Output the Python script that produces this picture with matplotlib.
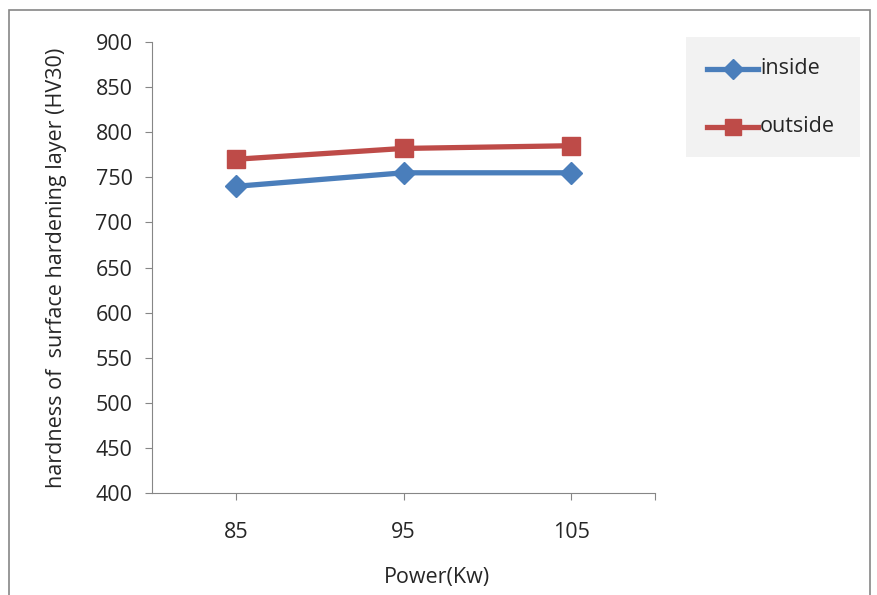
import matplotlib.pyplot as plt
from matplotlib.patches import Rectangle
from matplotlib.lines import Line2D

# Datos
power = [85, 95, 105]
inside = [740, 755, 755]
outside = [770, 782, 785]

azul = '#4a7ebb'
rojo = '#be4b48'

plt.rcParams['font.family'] = ['Open Sans', 'DejaVu Sans']

fig = plt.figure(figsize=(8.77, 5.95), dpi=100)
W, H = 877, 595
ax = fig.add_axes([152 / W, 1 - 493 / H, (655 - 152) / W, (493 - 42) / H])

ax.plot(power, inside, color=azul, lw=3.8, marker='D', ms=11, label='inside')
ax.plot(power, outside, color=rojo, lw=3.8, marker='s', ms=12.5, label='outside')

ax.set_xlim(80, 110)
ax.set_ylim(400, 900)
ax.set_xticks([85, 95, 105, 110])
ax.set_xticklabels(['85', '95', '105', ''])
ax.set_yticks(range(400, 901, 50))

for s in ['top', 'right']:
    ax.spines[s].set_visible(False)
for s in ['left', 'bottom']:
    ax.spines[s].set_color('#868686')
ax.tick_params(axis='both', colors='#868686', labelcolor='#262626',
               labelsize=15.5, length=5)
ax.tick_params(axis='x', pad=16)
ax.tick_params(axis='y', pad=9)

ax.set_xlabel('Power(Kw)', fontsize=15.5, color='#262626', va='center')
ax.xaxis.set_label_coords((437 - 152) / 503, -(577 - 493) / 451)
ax.set_ylabel('hardness of  surface hardening layer (HV30)', fontsize=15.5,
              color='#262626', va='center')
ax.yaxis.set_label_coords((57 - 152) / 503, 0.5)

# Leyenda con fondo gris
fig.patches.append(Rectangle((686 / W, 1 - 157 / H), (860 - 686) / W, (157 - 37) / H,
                             transform=fig.transFigure, facecolor='#f2f2f2',
                             edgecolor='none', zorder=0))
for yy, col, mk, ms, txt in [(69, azul, 'D', 10, 'inside'), (127, rojo, 's', 12, 'outside')]:
    fy = 1 - yy / H
    fig.add_artist(Line2D([707 / W, 758 / W], [fy, fy], transform=fig.transFigure,
                          color=col, lw=3.8))
    fig.add_artist(Line2D([732.5 / W], [fy], transform=fig.transFigure,
                          color=col, marker=mk, ms=ms, lw=0))
    fig.text(760 / W, fy, txt, fontsize=15.5, color='#262626', va='center', ha='left')

# Marco exterior
fig.patches.append(Rectangle((9 / W, -0.01), (870 - 9) / W, 1 - 10 / H + 0.01,
                             transform=fig.transFigure, facecolor='none',
                             edgecolor='#868686', lw=1.2))

fig.savefig('out.png', dpi=100)
